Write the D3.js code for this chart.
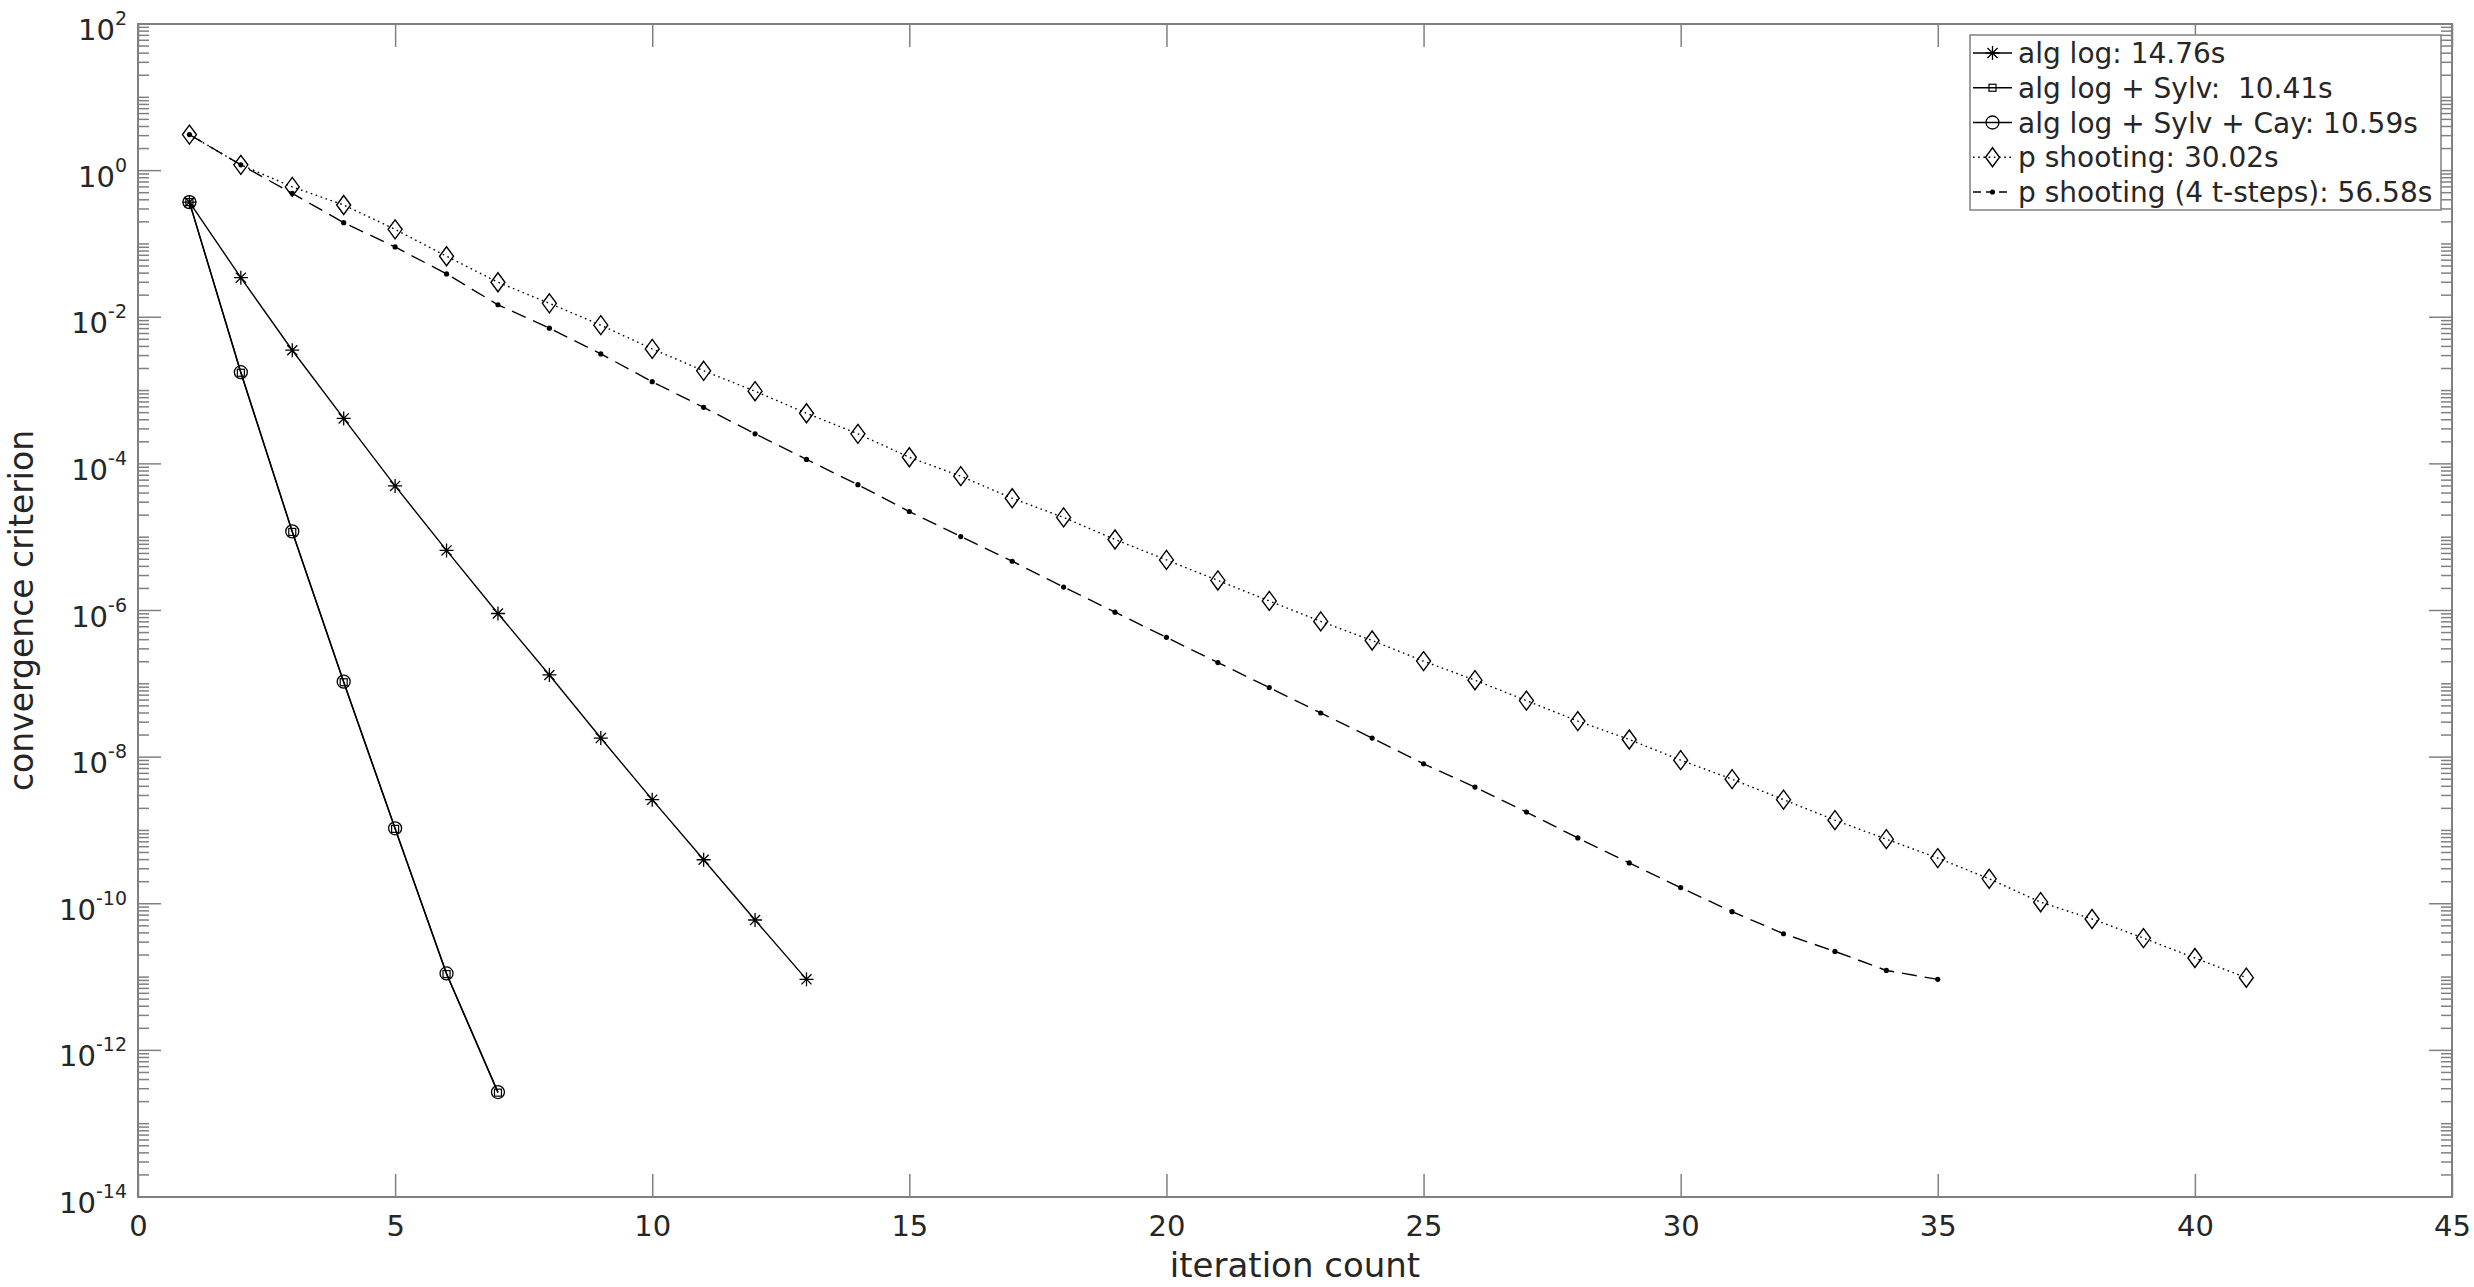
<!DOCTYPE html>
<html>
<head>
<meta charset="utf-8">
<script src="https://cdn.jsdelivr.net/npm/d3@7"></script>
<style>
  html, body { margin: 0; padding: 0; background: #ffffff; }
  svg { display: block; }
  text { font-family: "DejaVu Sans", sans-serif; fill: #262626; }
</style>
</head>
<body>
<svg id="chart" width="2474" height="1287"></svg>
<script>
// ---------------- data ----------------
const iterAlgLog = d3.range(1, 14);
const valAlgLog = [0.372, 0.0347, 3.55e-3, 4.17e-4, 5.0e-5, 6.6e-6, 9.1e-7, 1.32e-7, 1.82e-8, 2.63e-9, 3.98e-10, 6.0e-11, 9.3e-12];

const iterSylv = d3.range(1, 8);
const valSylv = [0.372, 1.75e-3, 1.18e-5, 1.05e-7, 1.05e-9, 1.1e-11, 2.65e-13];

const iterSylvCay = d3.range(1, 8);
const valSylvCay = [0.372, 1.78e-3, 1.2e-5, 1.07e-7, 1.07e-9, 1.12e-11, 2.7e-13];

const iterShoot = d3.range(1, 42);
const valShoot = [3.1, 1.2, 0.60, 0.34, 0.158, 0.068, 0.030, 0.0155, 7.8e-3, 3.7e-3,
  1.86e-3, 9.8e-4, 4.9e-4, 2.57e-4, 1.23e-4, 6.8e-5, 3.4e-5, 1.86e-5, 9.3e-6, 4.9e-6,
  2.57e-6, 1.35e-6, 7.1e-7, 3.9e-7, 2.04e-7, 1.12e-7, 5.9e-8, 3.1e-8, 1.74e-8, 9.1e-9,
  5.0e-9, 2.63e-9, 1.38e-9, 7.6e-10, 4.2e-10, 2.19e-10, 1.05e-10, 6.2e-11, 3.4e-11, 1.82e-11,
  9.8e-12];

const iterShoot4 = d3.range(1, 36);
const valShoot4 = [3.1, 1.2, 0.49, 0.195, 0.091, 0.039, 0.0148, 7.1e-3, 3.16e-3, 1.32e-3,
  5.9e-4, 2.57e-4, 1.15e-4, 5.2e-5, 2.24e-5, 1.02e-5, 4.7e-6, 2.09e-6, 9.5e-7, 4.3e-7,
  1.95e-7, 8.9e-8, 4.0e-8, 1.82e-8, 8.1e-9, 3.9e-9, 1.78e-9, 7.9e-10, 3.6e-10, 1.66e-10,
  7.8e-11, 3.9e-11, 2.24e-11, 1.23e-11, 9.3e-12];

const legendLabels = ["alg log: 14.76s", "alg log + Sylv:  10.41s", "alg log + Sylv + Cay: 10.59s",
  "p shooting: 30.02s", "p shooting (4 t-steps): 56.58s"];
const xTicks = [0, 5, 10, 15, 20, 25, 30, 35, 40, 45];
const yTickExponents = [2, 0, -2, -4, -6, -8, -10, -12, -14];
const xLabel = "iteration count";
const yLabel = "convergence criterion";

// ---------------- layout ----------------
const L = 138, R = 2452, T = 24, B = 1197;
const svg = d3.select("#chart");
const x = d3.scaleLinear().domain([0, 45]).range([L, R]);
const y = d3.scaleLog().domain([1e-14, 1e2]).range([B, T]);

const axisColor = "#808080";
const majorLen = 23, minorLen = 11;

// minor tick values
const minorVals = [];
for (let e = -14; e < 2; e++) {
  for (let m = 1; m <= 9; m++) {
    const v = m * Math.pow(10, e);
    if (m === 1 && yTickExponents.includes(e)) continue;
    minorVals.push(v);
  }
}
const majorVals = yTickExponents.map(e => Math.pow(10, e));

// ---------------- series ----------------
const gData = svg.append("g");
const line = d3.line().x(d => x(d[0])).y(d => y(d[1]));
const zip = (a, b) => a.map((v, i) => [v, b[i]]);

const series = [
  { pts: zip(iterAlgLog, valAlgLog), dash: null, legDash: null, marker: "star" },
  { pts: zip(iterSylv, valSylv), dash: null, legDash: null, marker: "square" },
  { pts: zip(iterSylvCay, valSylvCay), dash: null, legDash: null, marker: "circle" },
  { pts: zip(iterShoot, valShoot), dash: "1.6,3.6", legDash: "1.6,3.6", marker: "diamond" },
  { pts: zip(iterShoot4, valShoot4), dash: "15,8", legDash: "8,5", marker: "dot" }
];

function drawMarker(g, type, cx, cy) {
  const s = "#000";
  if (type === "star") {
    const r = 7, q = 7 * 0.72;
    g.append("path").attr("d",
      `M${cx - r},${cy}L${cx + r},${cy}M${cx},${cy - r}L${cx},${cy + r}` +
      `M${cx - q},${cy - q}L${cx + q},${cy + q}M${cx - q},${cy + q}L${cx + q},${cy - q}`)
      .attr("stroke", s).attr("stroke-width", 1.3).attr("fill", "none");
  } else if (type === "square") {
    g.append("rect").attr("x", cx - 3.5).attr("y", cy - 3.5).attr("width", 7).attr("height", 7)
      .attr("stroke", s).attr("stroke-width", 1.2).attr("fill", "none");
  } else if (type === "circle") {
    g.append("circle").attr("cx", cx).attr("cy", cy).attr("r", 6.5)
      .attr("stroke", s).attr("stroke-width", 1.3).attr("fill", "none");
  } else if (type === "diamond") {
    g.append("path").attr("d", `M${cx},${cy - 9.5}L${cx + 7},${cy}L${cx},${cy + 9.5}L${cx - 7},${cy}Z`)
      .attr("stroke", s).attr("stroke-width", 1.4).attr("fill", "none");
  } else if (type === "dot") {
    g.append("circle").attr("cx", cx).attr("cy", cy).attr("r", 2.6).attr("fill", s);
  }
}

series.forEach(sr => {
  const g = gData.append("g");
  g.append("path").datum(sr.pts).attr("d", line)
    .attr("fill", "none").attr("stroke", "#000").attr("stroke-width", 1.4)
    .attr("stroke-dasharray", sr.dash);
  sr.pts.forEach(p => drawMarker(g, sr.marker, x(p[0]), y(p[1])));
});

// ---------------- axes ----------------
const gAxes = svg.append("g");
gAxes.append("rect").attr("x", L).attr("y", T).attr("width", R - L).attr("height", B - T)
  .attr("fill", "none").attr("stroke", axisColor).attr("stroke-width", 2);

const xAxisB = d3.axisBottom(x).tickValues(xTicks).tickSizeInner(-majorLen).tickSizeOuter(0).tickPadding(18);
const gx = gAxes.append("g").attr("transform", `translate(0,${B})`).call(xAxisB);
gx.select(".domain").remove();
gx.selectAll(".tick line").attr("stroke", axisColor).attr("stroke-width", 1.5);
gx.selectAll(".tick text").attr("font-size", 29).attr("font-family", "DejaVu Sans").attr("fill", "#262626");

const xAxisT = d3.axisTop(x).tickValues(xTicks).tickSizeInner(-majorLen).tickSizeOuter(0).tickFormat("");
const gxt = gAxes.append("g").attr("transform", `translate(0,${T})`).call(xAxisT);
gxt.select(".domain").remove();
gxt.selectAll(".tick line").attr("stroke", axisColor).attr("stroke-width", 1.5);

function yTicks(side) {
  const sign = side === "left" ? 1 : -1;
  const x0 = side === "left" ? L : R;
  const gm = gAxes.append("g");
  gm.selectAll("line.minor").data(minorVals).join("line").attr("class", "minor")
    .attr("x1", x0).attr("x2", x0 + sign * minorLen)
    .attr("y1", d => y(d)).attr("y2", d => y(d))
    .attr("stroke", axisColor).attr("stroke-width", 1.5);
  gm.selectAll("line.major").data(majorVals).join("line").attr("class", "major")
    .attr("x1", x0).attr("x2", x0 + sign * majorLen)
    .attr("y1", d => y(d)).attr("y2", d => y(d))
    .attr("stroke", axisColor).attr("stroke-width", 1.5);
}
yTicks("left");
yTicks("right");

const gyl = gAxes.append("g");
yTickExponents.forEach(e => {
  const ty = y(Math.pow(10, e));
  const t = gyl.append("text").attr("x", L - 11).attr("y", ty + 16)
    .attr("text-anchor", "end").attr("font-size", 29);
  t.append("tspan").text("10");
  t.append("tspan").attr("font-size", 19).attr("dy", -15).text(String(e));
});

svg.append("text").attr("x", (L + R) / 2).attr("y", 1277).attr("text-anchor", "middle")
  .attr("font-size", 34).text(xLabel);
svg.append("text").attr("transform", `translate(33,${(T + B) / 2}) rotate(-90)`)
  .attr("text-anchor", "middle").attr("font-size", 33).text(yLabel);

// ---------------- legend ----------------
const lg = svg.append("g");
lg.append("rect").attr("x", 1970).attr("y", 35).attr("width", 471).attr("height", 175)
  .attr("fill", "#fff").attr("stroke", axisColor).attr("stroke-width", 1.5);
legendLabels.forEach((lab, i) => {
  const base = 63 + i * 34.75;
  const ly = base - 10;
  const sr = series[i];
  lg.append("line").attr("x1", 1973).attr("x2", 2012).attr("y1", ly).attr("y2", ly)
    .attr("stroke", "#000").attr("stroke-width", 1.4).attr("stroke-dasharray", sr.legDash);
  drawMarker(lg, sr.marker, 1992.5, ly);
  lg.append("text").attr("x", 2018).attr("y", base).attr("font-size", 28)
    .style("white-space", "pre").text(lab);
});
</script>
</body>
</html>
